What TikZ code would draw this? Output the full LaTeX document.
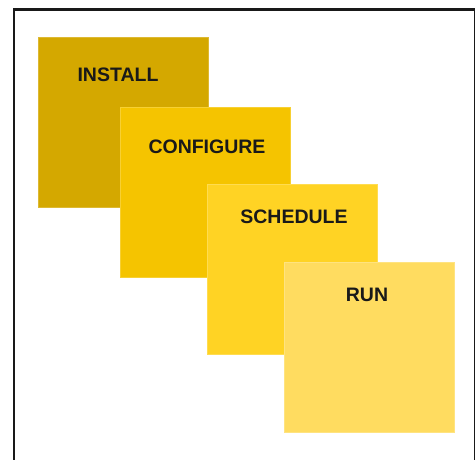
\documentclass[tikz,border=0pt]{standalone}
\usepackage{fontspec}
\setmainfont{Liberation Sans}
\usepackage{tikz}
\usetikzlibrary{positioning,calc}
\usepackage{xcolor}
\definecolor{installcol}{RGB}{212,168,0}
\definecolor{configcol}{RGB}{245,196,0}
\definecolor{schedcol}{RGB}{255,211,36}
\definecolor{runcol}{RGB}{255,220,96}
\tikzset{
    stepbox/.style={
        rectangle,
        anchor=north west,
        minimum width=170pt,
        minimum height=170pt,
        inner sep=0pt,
        draw=#1!80!white,
        line width=0.6pt,
        fill=#1
    },
    steptext/.style={
        font=\fontsize{19.5}{22}\selectfont\bfseries,
        text=black!90,
        inner sep=0pt
    }
}

\begin{document}
\begin{tikzpicture}[x=1pt,y=-1pt]
    \useasboundingbox (0,0) rectangle (475,459);
    \clip (0,0) rectangle (475,459);
    % Frame
    \draw[line width=2.4pt, black!90] (14,470) -- (14,9.5) -- (475.6,9.5) -- (475.6,470);

    % Steps
    \node[stepbox=installcol] (install) at (38,37) {};
    \node[steptext] (installtext) at (118,75) {INSTALL};
    \node[stepbox=configcol] (configure) at (120,107) {};
    \node[steptext] (configuretext) at (207,147) {CONFIGURE};
    \node[stepbox=schedcol] (schedule) at (207,184) {};
    \node[steptext] (scheduletext) at (294,217) {SCHEDULE};
    \node[stepbox=runcol] (run) at (284,262) {};
    \node[steptext] (runtext) at (367,295) {RUN};
\end{tikzpicture}
\end{document}
